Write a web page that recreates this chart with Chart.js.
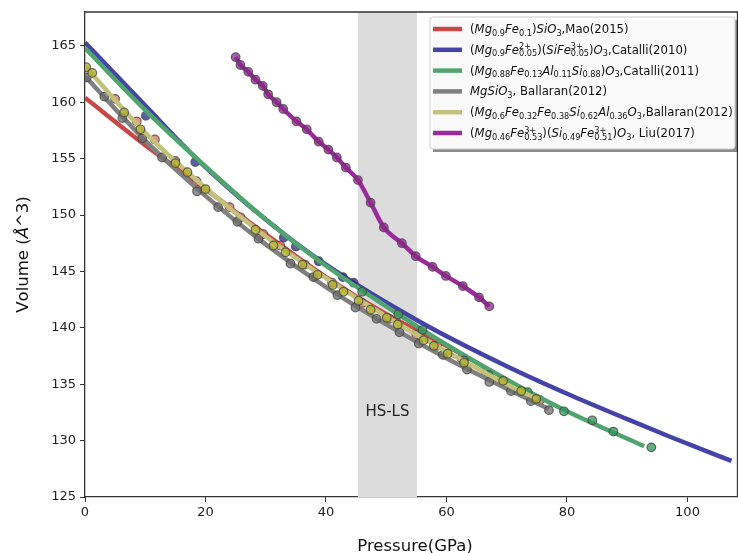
<!DOCTYPE html>
<html>
<head>
<meta charset="utf-8">
<script src="https://cdn.jsdelivr.net/npm/chart.js@4.4.1/dist/chart.umd.min.js"></script>
<style>
  body { margin: 0; background: #fff; overflow: hidden; }
</style>
</head>
<body>
<canvas id="c" width="743" height="553"></canvas>
<script>
// fit curves
const redFitP = [0, 10, 20, 30, 40, 50, 60, 70, 75.5];
const redFitV = [160.4, 156.2, 152.3, 148.3, 144.5, 141.2, 138.4, 135.4, 133.7];
const blueFitP = [0, 10, 19.1, 30, 40, 55.7, 70, 80.7, 90, 97.3, 107.3];
const blueFitV = [165.3, 159.7, 154.7, 149.6, 145.6, 140.5, 136.6, 134.0, 131.9, 130.3, 128.2];
const greenFitP = [0, 10, 20, 30, 40, 50, 60, 70, 80, 92.8];
const greenFitV = [164.8, 159.3, 154.3, 149.6, 145.5, 141.9, 138.5, 135.4, 132.6, 129.5];
const grayFitP = [0, 10, 20, 30, 40, 50, 60, 70, 77];
const grayFitV = [162.3, 156.6, 151.7, 147.4, 143.6, 140.3, 137.3, 134.6, 132.8];
const yellowFitP = [0, 10, 20, 30, 40, 50, 60, 70, 75];
const yellowFitV = [163.2, 157.3, 152.4, 148.1, 144.4, 141.0, 137.9, 135.0, 133.7];

// measured points
const redP = [5, 8.6, 11.6, 15, 18.5, 24, 25.8, 29.6, 32.4, 36.5, 41, 46, 50.5, 55, 58.5, 62.5, 66.5, 70, 75.5];
const redV = [160.3, 158.3, 156.7, 154.8, 153.0, 150.7, 149.8, 148.3, 147.3, 145.6, 144.0, 142.2, 140.8, 139.4, 138.4, 137.3, 136.1, 135.1, 133.6];
const blueP = [10.1, 18.3, 33, 35, 38.8, 42.8, 44.6];
const blueV = [158.8, 154.7, 148.0, 147.2, 145.9, 144.5, 144.0];
const greenP = [46, 52, 56, 62.9, 67, 73.5, 79.5, 84.2, 87.7, 94];
const greenV = [143.2, 141.2, 139.8, 137.1, 135.8, 134.3, 132.6, 131.8, 130.8, 129.4];
const grayP = [0.3, 3.2, 6.2, 9.5, 12.8, 18.6, 22.1, 25.3, 28.8, 34.1, 37.9, 41.9, 44.9, 48.4, 52.2, 55.4, 59.4, 63.4, 67.1, 70.7, 74, 77];
const grayV = [162.2, 160.5, 158.6, 156.8, 155.1, 152.1, 150.7, 149.4, 147.9, 145.7, 144.5, 142.9, 141.8, 140.8, 139.6, 138.6, 137.6, 136.3, 135.2, 134.4, 133.5, 132.7];
const yellowP = [0.2, 1.2, 6.5, 9.2, 15, 17, 20, 28.3, 31.3, 33.3, 36.1, 38.6, 41.1, 42.9, 45.4, 47.4, 50.1, 51.9, 56.2, 57.9, 60.2, 62.9, 69.4, 72.4, 74.9];
const yellowV = [163.1, 162.6, 159.1, 157.6, 154.6, 153.8, 152.3, 148.7, 147.3, 146.7, 145.6, 144.7, 143.8, 143.2, 142.4, 141.6, 140.9, 140.3, 138.9, 138.4, 137.7, 136.9, 135.3, 134.4, 133.7];
const purpleP = [25.0, 25.8, 27.1, 28.3, 29.5, 30.4, 31.8, 32.9, 35.1, 36.8, 38.8, 40.4, 41.8, 43.3, 45.3, 47.4, 49.6, 52.6, 54.9, 57.7, 59.9, 62.7, 65.4, 67.1];
const purpleV = [164.0, 163.3, 162.7, 162.0, 161.45, 160.7, 160.0, 159.4, 158.3, 157.6, 156.5, 155.8, 155.1, 154.2, 153.1, 151.1, 148.9, 147.5, 146.35, 145.4, 144.6, 143.7, 142.7, 141.9];

const labels = [
  '$(Mg_{0.9}Fe_{0.1})SiO_{3}$,Mao(2015)',
  '$(Mg_{0.9}Fe^{2+}_{0.05})(SiFe^{3+}_{0.05})O_{3}$,Catalli(2010)',
  '$(Mg_{0.88}Fe_{0.13}Al_{0.11}Si_{0.88})O_{3}$,Catalli(2011)',
  '$MgSiO_{3}$, Ballaran(2012)',
  '$(Mg_{0.6}Fe_{0.32}Fe_{0.38}Si_{0.62}Al_{0.36}O_{3}$,Ballaran(2012)',
  '$(Mg_{0.46}Fe^{3+}_{0.53})(Si_{0.49}Fe^{3+}_{0.51})O_{3}$, Liu(2017)'
];
const lineColors = ['#c84848', '#4343a8', '#50a56e', '#808080', '#c2c27a', '#9c2a9c'];
const pointColors = ['rgba(226,110,96,0.75)', 'rgba(40,40,130,0.75)', 'rgba(50,150,90,0.75)',
  'rgba(110,110,110,0.75)', 'rgba(175,175,40,0.75)', 'rgba(140,40,140,0.75)'];

const bandFrom = 45.3, bandTo = 55.1;

const xy = (P, V) => P.map((p, i) => ({ x: p, y: V[i] }));

const fits = [xy(redFitP, redFitV), xy(blueFitP, blueFitV), xy(greenFitP, greenFitV),
  xy(grayFitP, grayFitV), xy(yellowFitP, yellowFitV), xy(purpleP, purpleV)];
const pts = [xy(redP, redV), xy(blueP, blueV), xy(greenP, greenV),
  xy(grayP, grayV), xy(yellowP, yellowV), xy(purpleP, purpleV)];

const datasets = [];
fits.forEach((d, k) => {
  datasets.push({
    type: 'line', data: d, borderColor: lineColors[k], borderWidth: 4.5,
    pointRadius: 0, cubicInterpolationMode: 'monotone', order: 100 - 2 * k
  });
  datasets.push({
    type: 'scatter', data: pts[k], backgroundColor: pointColors[k],
    borderColor: 'rgba(70,70,70,0.8)', borderWidth: 1.2, pointRadius: 4.3,
    showLine: false, order: 99 - 2 * k
  });
});

// small mathtext-like renderer: $..$ italic letters, _{..} sub, ^{..} sup
function rich(ctx, str, x, y, size, draw) {
  let cx = x, math = false, i = 0;
  const fam = '"DejaVu Sans"';
  const chunk = (t, sz, dy, m) => {
    let w = 0;
    for (const ch of t) {
      ctx.font = ((m && /[A-Za-zÅ]/.test(ch)) ? 'italic ' : '') + sz + 'px ' + fam;
      if (draw) ctx.fillText(ch, cx + w, y + dy);
      w += ctx.measureText(ch).width;
    }
    return w;
  };
  const group = (j) => {
    const end = str.indexOf('}', j + 2);
    return { txt: str.slice(j + 2, end), next: end + 1 };
  };
  while (i < str.length) {
    const ch = str[i];
    if (ch === '$') { math = !math; i++; continue; }
    if ((ch === '^' || ch === '_') && str[i + 1] === '{') {
      const g = group(i);
      let sup = null, sub = null;
      if (ch === '^') sup = g.txt; else sub = g.txt;
      i = g.next;
      if ((str[i] === '^' || str[i] === '_') && str[i + 1] === '{') {
        const g2 = group(i);
        if (str[i] === '^') sup = g2.txt; else sub = g2.txt;
        i = g2.next;
      }
      const s = size * 0.7;
      const save = cx;
      let w1 = 0, w2 = 0;
      if (sup !== null) { w1 = chunk(sup, s, -size * 0.38, false); }
      cx = save;
      if (sub !== null) { w2 = chunk(sub, s, size * 0.22, false); }
      cx = save + Math.max(w1, w2);
      continue;
    }
    cx += chunk(ch, size, 0, math);
    i++;
  }
  return cx - x;
}

const decor = {
  id: 'decor',
  beforeDatasetsDraw(chart) {
    const { ctx, chartArea: a, scales: { x } } = chart;
    ctx.save();
    ctx.fillStyle = '#dcdcdc';
    const x0 = x.getPixelForValue(bandFrom), x1 = x.getPixelForValue(bandTo);
    ctx.fillRect(x0, a.top, x1 - x0, a.bottom - a.top);
    ctx.fillStyle = '#222';
    ctx.font = '15px "DejaVu Sans"';
    ctx.textAlign = 'center';
    ctx.textBaseline = 'middle';
    ctx.fillText('HS-LS', (x0 + x1) / 2, chart.scales.y.getPixelForValue(132.5));
    ctx.restore();
  },
  afterDraw(chart) {
    const { ctx, chartArea: a } = chart;
    ctx.save();
    ctx.strokeStyle = '#333';
    ctx.lineWidth = 1.3;
    ctx.beginPath();
    ctx.moveTo(a.left, a.top); ctx.lineTo(a.right, a.top); ctx.lineTo(a.right, a.bottom);
    ctx.stroke();

    // legend
    const bx = 430, by = 17, bw = 305, bh = 132;
    ctx.fillStyle = 'rgba(0,0,0,0.45)';
    ctx.fillRect(bx + 3, by + 3, bw, bh);
    ctx.fillStyle = 'rgba(255,255,255,0.95)';
    ctx.strokeStyle = '#cccccc';
    ctx.lineWidth = 1;
    ctx.beginPath();
    ctx.roundRect(bx, by, bw, bh, 3);
    ctx.fill(); ctx.stroke();
    ctx.textBaseline = 'alphabetic';
    ctx.textAlign = 'left';
    labels.forEach((lab, k) => {
      const ry = 29 + k * 20.8;
      ctx.strokeStyle = lineColors[k];
      ctx.lineWidth = 4.5;
      ctx.beginPath(); ctx.moveTo(433, ry); ctx.lineTo(462, ry); ctx.stroke();
      ctx.fillStyle = '#111';
      rich(ctx, lab, 470, ry + 4, 11.7, true);
    });

    // axis titles
    ctx.fillStyle = '#111';
    ctx.font = '16.5px "DejaVu Sans"';
    ctx.textAlign = 'center';
    ctx.fillText('Pressure(GPa)', 415, 551);
    ctx.save();
    ctx.translate(28, (a.top + a.bottom) / 2);
    ctx.rotate(-Math.PI / 2);
    ctx.textAlign = 'left';
    const w = rich(ctx, 'Volume ($Å$^3)', 0, 0, 16.5, false);
    rich(ctx, 'Volume ($Å$^3)', -w / 2, 0, 16.5, true);
    ctx.restore();
    ctx.restore();
  }
};

const tickFont = { family: 'DejaVu Sans', size: 13 };
new Chart(document.getElementById('c'), {
  data: { datasets },
  options: {
    responsive: false,
    animation: false,
    devicePixelRatio: 1,
    layout: { padding: { top: 12, right: 0, left: 0, bottom: 0 } },
    plugins: { legend: { display: false }, tooltip: { enabled: false } },
    scales: {
      x: {
        type: 'linear', min: 0, max: 108.3,
        afterBuildTicks: s => { s.ticks = [0, 20, 40, 60, 80, 100].map(v => ({ value: v })); },
        afterFit: s => { s.height = 56; s.paddingLeft = 0; s.paddingRight = 0; },
        ticks: { font: tickFont, color: '#222', padding: 3, maxRotation: 0 },
        grid: { drawOnChartArea: false, tickLength: 5, color: '#333' },
        border: { color: '#333', width: 1.3 }
      },
      y: {
        type: 'linear', min: 125, max: 168,
        afterBuildTicks: s => { s.ticks = [125, 130, 135, 140, 145, 150, 155, 160, 165].map(v => ({ value: v })); },
        afterFit: s => { s.width = 85; s.paddingTop = 0; s.paddingBottom = 0; },
        ticks: { font: tickFont, color: '#222', padding: 4 },
        grid: { drawOnChartArea: false, tickLength: 5, color: '#333' },
        border: { color: '#333', width: 1.3 }
      }
    }
  },
  plugins: [decor]
});
</script>
</body>
</html>
